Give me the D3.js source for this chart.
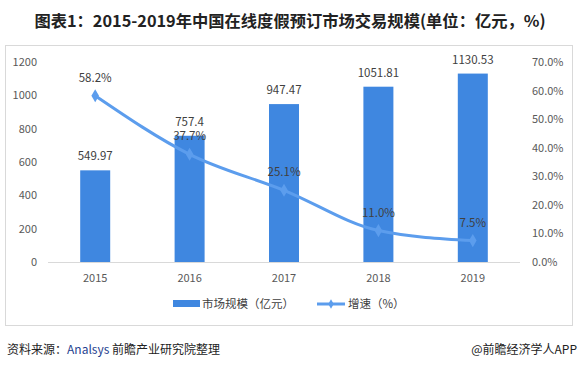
<!DOCTYPE html>
<meta charset="utf-8">
<style>
body { margin: 0; background: #fff; }
text { font-family: "Microsoft YaHei", "Noto Sans CJK SC", sans-serif; }
</style>
<body>
<script src="https://d3js.org/d3.v7.min.js"></script>
<script>

var width = 580,
    height = 370;

var years = ["2015", "2016", "2017", "2018", "2019"];
var market = [549.97, 757.4, 947.47, 1051.81, 1130.53];
var growth = [58.2, 37.7, 25.1, 11.0, 7.5];
var leftTicks = [0, 200, 400, 600, 800, 1000, 1200];
var rightTicks = [0, 10, 20, 30, 40, 50, 60, 70];

var barColor = "#3f87e0",
    lineColor = "#5c9ded",
    textColor = "#404040",
    tickColor = "#595959";

var svg = d3.select("body").append("svg")
    .attr("width", width)
    .attr("height", height);

// title
svg.append("text")
    .attr("x", width / 2)
    .attr("y", 27)
    .attr("text-anchor", "middle")
    .attr("font-size", 16.3)
    .attr("font-weight", "bold")
    .attr("fill", "#222")
    .text("图表1：2015-2019年中国在线度假预订市场交易规模(单位：亿元，%)");

// frame
svg.append("rect")
    .attr("x", 5.5).attr("y", 45.5)
    .attr("width", 567).attr("height", 280)
    .attr("fill", "none")
    .attr("stroke", "#d9d9d9");

var x = d3.scaleBand().domain(years).range([48, 520]);
var y = d3.scaleLinear().domain([0, 1200]).range([262, 62]);
var y2 = d3.scaleLinear().domain([0, 70]).range([262, 62]);

// axis baseline
svg.append("line")
    .attr("x1", 48).attr("x2", 520)
    .attr("y1", 262.5).attr("y2", 262.5)
    .attr("stroke", "#d9d9d9");

// left ticks
svg.selectAll(".lt").data(leftTicks).enter().append("text")
    .attr("x", 37)
    .attr("y", d => y(d) + 4)
    .attr("text-anchor", "end")
    .attr("font-size", 11)
    .attr("fill", tickColor)
    .text(d => d);

// right ticks
svg.selectAll(".rt").data(rightTicks).enter().append("text")
    .attr("x", 532)
    .attr("y", d => y2(d) + 4)
    .attr("font-size", 11)
    .attr("fill", tickColor)
    .text(d => d.toFixed(1) + "%");

// x labels
svg.selectAll(".xl").data(years).enter().append("text")
    .attr("x", d => x(d) + x.bandwidth() / 2)
    .attr("y", 282)
    .attr("text-anchor", "middle")
    .attr("font-size", 11)
    .attr("fill", tickColor)
    .text(d => d);

// bars
var bw = 30;
svg.selectAll(".bar").data(market).enter().append("rect")
    .attr("x", (d, i) => x(years[i]) + x.bandwidth() / 2 - bw / 2)
    .attr("y", d => y(d))
    .attr("width", bw)
    .attr("height", d => 262 - y(d))
    .attr("fill", barColor);

svg.selectAll(".bl").data(market).enter().append("text")
    .attr("x", (d, i) => x(years[i]) + x.bandwidth() / 2)
    .attr("y", d => y(d) - 10)
    .attr("text-anchor", "middle")
    .attr("font-size", 11.5)
    .attr("fill", textColor)
    .text(d => d);

// growth line
var line = d3.line()
    .x((d, i) => x(years[i]) + x.bandwidth() / 2)
    .y(d => y2(d))
    .curve(d3.curveMonotoneX);

svg.append("path")
    .datum(growth)
    .attr("d", line)
    .attr("fill", "none")
    .attr("stroke", lineColor)
    .attr("stroke-width", 3);

svg.selectAll(".pt").data(growth).enter().append("path")
    .attr("d", d3.symbol().type(d3.symbolDiamond).size(50))
    .attr("transform", (d, i) => "translate(" + (x(years[i]) + x.bandwidth() / 2) + "," + y2(d) + ")")
    .attr("fill", lineColor);

svg.selectAll(".gl").data(growth).enter().append("text")
    .attr("x", (d, i) => x(years[i]) + x.bandwidth() / 2)
    .attr("y", d => y2(d) - 14)
    .attr("text-anchor", "middle")
    .attr("font-size", 11.5)
    .attr("fill", textColor)
    .text(d => d.toFixed(1) + "%");

// legend
var lg = svg.append("g").attr("transform", "translate(0,304)");
lg.append("rect").attr("x", 173).attr("y", -4).attr("width", 27).attr("height", 7).attr("fill", barColor);
lg.append("text").attr("x", 202).attr("y", 4).attr("font-size", 11.5).attr("fill", textColor).text("市场规模（亿元）");
lg.append("line").attr("x1", 317).attr("x2", 345).attr("y1", 0).attr("y2", 0)
    .attr("stroke", lineColor).attr("stroke-width", 3);
lg.append("path").attr("d", d3.symbol().type(d3.symbolDiamond).size(25)).attr("transform", "translate(331,0)").attr("fill", lineColor);
lg.append("text").attr("x", 348).attr("y", 4).attr("font-size", 11.5).attr("fill", textColor).text("增速（%）");

// footer
var ft = svg.append("text").attr("x", 7).attr("y", 354).attr("font-size", 12).attr("fill", "#222");
ft.append("tspan").text("资料来源：");
ft.append("tspan").attr("fill", "#1f3f8f").text("Analsys");
ft.append("tspan").text(" 前瞻产业研究院整理");

svg.append("text")
    .attr("x", 577).attr("y", 354)
    .attr("text-anchor", "end")
    .attr("font-size", 12)
    .attr("fill", "#222")
    .text("@前瞻经济学人APP");

</script>
